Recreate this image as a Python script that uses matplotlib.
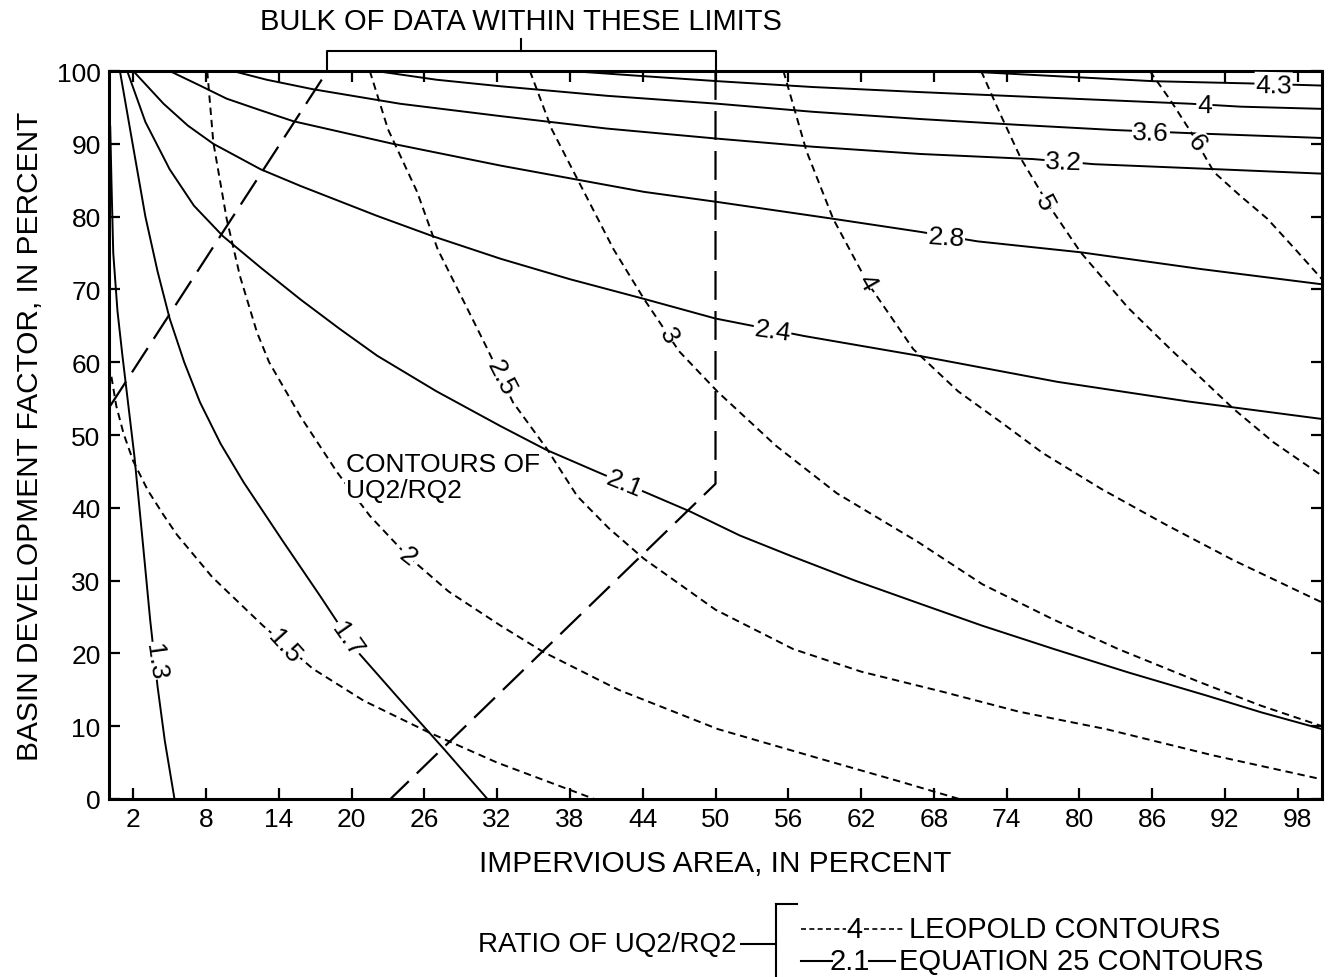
import matplotlib
matplotlib.use("Agg")
import matplotlib.pyplot as plt
from matplotlib.lines import Line2D

plt.rcParams["font.family"] = ["Liberation Sans", "DejaVu Sans"]

# impervious area (x, percent) and basin development factor (y, percent)
# read along each contour of UQ2/RQ2

# equation 25 contours (solid)
eq_1_3_x = [0.1, 0.2, 0.35, 0.7, 1.1, 1.6, 2.1, 2.8, 3.4, 4.0, 4.6, 5.4]
eq_1_3_y = [92.5, 85, 75, 67, 61, 54, 47, 35, 24.5, 15.5, 8, 0]
eq_1_7_x = [0.9, 2.0, 3.0, 4.0, 5.0, 6.2, 7.5, 9.2, 11.1, 14.3, 17.4, 20.3, 24.0, 27.7, 31.2]
eq_1_7_y = [100, 89.5, 80, 72.5, 66, 60, 54.5, 48.8, 43.5, 35.5, 27.9, 20.6, 13.6, 6.7, 0]
eq_2_1_x = [1.5, 3.0, 5.0, 7.0, 9.4, 12.5, 15.8, 19.0, 22.1, 27.0, 32.3, 36.0, 40.3, 44.4,
            47.9, 52.0, 56.2, 61.5, 66.9, 72.0, 77.9, 84.0, 90.5, 95.0, 100]
eq_2_1_y = [100, 93, 86.5, 81.5, 77.3, 73, 68.6, 64.6, 60.9, 56, 51.2, 48, 44.9, 42,
            39.5, 36.2, 33.4, 30, 26.8, 23.8, 20.6, 17.4, 14.2, 11.9, 9.6]
eq_2_4_x = [2.0, 4.5, 6.5, 8.6, 12.5, 15.8, 22.1, 26.7, 32.3, 38.0, 44.1, 50.0, 57.3, 66.7,
            78.2, 89.0, 100]
eq_2_4_y = [100, 95.5, 92.5, 90, 86.5, 84.2, 80.1, 77.3, 74.2, 71.4, 68.7, 66, 63.6, 60.9,
            57.3, 54.6, 52.2]
eq_2_8_x = [5.0, 7.5, 9.7, 12.5, 15.2, 23.4, 32.3, 44.1, 50.2, 59.7, 66.9, 71.6, 80.1, 90.0, 100]
eq_2_8_y = [100, 98, 96.2, 94.6, 93.1, 90, 87, 83.4, 82, 79.7, 77.9, 76.6, 75.1, 72.8, 70.7]
eq_3_2_x = [10.2, 13.0, 16.8, 24.0, 32.3, 41.0, 50.2, 58.0, 66.9, 76.2, 81.2, 90.0, 100]
eq_3_2_y = [100, 98.8, 97.5, 95.5, 93.8, 92.1, 90.7, 89.6, 88.6, 87.9, 87.2, 86.6, 85.9]
eq_3_6_x = [22.0, 27.0, 32.3, 41.0, 50.2, 58.0, 66.9, 75.0, 82.8, 90.0, 100]
eq_3_6_y = [100, 98.8, 97.9, 96.6, 95.5, 94.4, 93.4, 92.6, 91.9, 91.4, 90.8]
eq_4_0_x = [38.0, 44.0, 50.2, 58.0, 66.9, 78.0, 89.2, 93.3, 100]
eq_4_0_y = [100, 99.3, 98.6, 97.8, 97.1, 96.3, 95.5, 95.1, 94.8]
eq_4_3_x = [70.0, 78.0, 86.1, 93.9, 100]
eq_4_3_y = [100, 99.3, 98.6, 98.3, 98]

# Leopold contours (dashed)
leo_1_5_x = [0.2, 0.6, 1.2, 2.0, 3.2, 4.5, 5.6, 8.5, 12.7, 16.8, 21.0, 26.3, 32.0, 38.4, 40.0]
leo_1_5_y = [58, 54, 50.2, 46.4, 42.4, 39, 36.3, 30.5, 23.8, 17.9, 13.5, 9.2, 5.0, 1.0, 0]
leo_2_0_x = [8.1, 8.6, 9.7, 10.8, 12.2, 13.2, 15.8, 18.8, 21.5, 24.6, 28.0, 32.3, 35.8, 42.0,
             50.2, 58.7, 65.0, 70.1]
leo_2_0_y = [100, 90.2, 79.7, 71.8, 64.1, 60, 52.5, 44.9, 38.9, 33.4, 28.5, 23.8, 20.2, 15,
             9.6, 5.5, 2.5, 0]
leo_2_5_x = [21.5, 23.0, 25.4, 27.1, 29.2, 31.2, 33.3, 36.1, 38.6, 41.2, 44.1, 50.0, 56.4,
             62.0, 68.8, 75.0, 82.2, 91.0, 100]
leo_2_5_y = [100, 92, 83.4, 75.5, 68.5, 61.8, 54.5, 48.1, 41.6, 37.2, 33, 26, 20.6,
             17.5, 14.7, 12, 9.6, 6, 2.7]
leo_3_0_x = [34.7, 36.5, 38.6, 41.6, 44.1, 47.0, 50.2, 55.0, 60.0, 66.7, 72.0, 77.8, 83.2,
             90.0, 95.0, 100]
leo_3_0_y = [100, 92, 85.2, 75.5, 68.7, 61.5, 55.9, 48.5, 42, 35.3, 29.5, 24.7, 20.6,
             16, 12.8, 10]
leo_4_0_x = [55.6, 57.5, 59.7, 62.5, 66.3, 70.0, 73.5, 77.0, 81.8, 87.0, 92.7, 100]
leo_4_0_y = [100, 89, 79.7, 71, 61.8, 56, 51.8, 47.5, 42.6, 37.8, 32.8, 27]
leo_5_0_x = [71.9, 73.5, 75.2, 77.5, 80.1, 84.0, 87.5, 92.7, 96.0, 100]
leo_5_0_y = [100, 94, 87.9, 81.5, 75.1, 67.5, 61.8, 53.6, 49, 44.4]
leo_6_0_x = [85.8, 87.5, 89.2, 91.1, 93.3, 95.5, 97.8, 100]
leo_6_0_y = [100, 96, 91.6, 86.1, 82.8, 79.7, 75.5, 71.4]

# envelope of the bulk of the data
bulk_left_x = [0.1, 18.0]
bulk_left_y = [54, 100]
bulk_right_x = [50.0, 50.0, 23.2]
bulk_right_y = [100, 43.3, 0]
bulk_limits = [18.0, 50.0]

x_ticks = list(range(2, 100, 6))
y_ticks = list(range(0, 101, 10))

eq_curves = [
    ("1.3", eq_1_3_x, eq_1_3_y), ("1.7", eq_1_7_x, eq_1_7_y), ("2.1", eq_2_1_x, eq_2_1_y),
    ("2.4", eq_2_4_x, eq_2_4_y), ("2.8", eq_2_8_x, eq_2_8_y), ("3.2", eq_3_2_x, eq_3_2_y),
    ("3.6", eq_3_6_x, eq_3_6_y), ("4", eq_4_0_x, eq_4_0_y), ("4.3", eq_4_3_x, eq_4_3_y),
]
leo_curves = [
    ("1.5", leo_1_5_x, leo_1_5_y), ("2", leo_2_0_x, leo_2_0_y), ("2.5", leo_2_5_x, leo_2_5_y),
    ("3", leo_3_0_x, leo_3_0_y), ("4", leo_4_0_x, leo_4_0_y), ("5", leo_5_0_x, leo_5_0_y),
    ("6", leo_6_0_x, leo_6_0_y),
]

# where each label sits on its curve, and its angle
eq_label_pos = {"1.3": (3.8, 19, -82), "1.7": (19.6, 22.0, -55), "2.1": (42.5, 43.4, -22),
                "2.4": (54.7, 64.4, -8), "2.8": (69.0, 77.2, -4), "3.2": (78.7, 87.5, -2),
                "3.6": (85.9, 91.6, -2), "4": (90.3, 95.3, -1), "4.3": (96.0, 98.1, -1)}
leo_label_pos = {"1.5": (14.5, 21, -48), "2": (24.6, 33.4, -38), "2.5": (32.3, 58, -63),
                 "3": (46.1, 63.7, -62), "4": (62.5, 71, -60), "5": (77.1, 82, -63),
                 "6": (89.7, 90.2, -52)}

W, H = 1332, 978
fig = plt.figure(figsize=(W / 100, H / 100), dpi=100)
ax = fig.add_axes([109 / W, 1 - 800 / H, 1213 / W, 728 / H])

lbl_box = dict(facecolor="white", edgecolor="none", pad=0.5)

for name, xs, ys in eq_curves:
    ax.plot(xs, ys, color="black", lw=1.4, solid_capstyle="butt", solid_joinstyle="round")
    lx, ly, rot = eq_label_pos[name]
    ax.text(lx, ly, name, fontsize=19, rotation=rot, rotation_mode="anchor",
            ha="center", va="center", bbox=lbl_box, zorder=5)

for name, xs, ys in leo_curves:
    ax.plot(xs, ys, color="black", lw=1.4, linestyle=(0, (3.8, 2.5)))
    lx, ly, rot = leo_label_pos[name]
    ax.text(lx, ly, name, fontsize=19, rotation=rot, rotation_mode="anchor",
            ha="center", va="center", bbox=lbl_box, zorder=5)

# bulk of data envelope
ax.plot(bulk_left_x, bulk_left_y, color="black", lw=1.6, linestyle=(0, (13, 5)))
ax.plot(bulk_right_x, bulk_right_y, color="black", lw=1.6, linestyle=(0, (13, 5)))
ax.plot([bulk_limits[0], bulk_limits[0], bulk_limits[1], bulk_limits[1]],
        [100, 102.7, 102.7, 100], color="black", lw=1.5, clip_on=False)
mid = (bulk_limits[0] + bulk_limits[1]) / 2
ax.plot([mid, mid], [102.7, 104.4], color="black", lw=1.5, clip_on=False)
ax.text(mid, 106.9, "BULK OF DATA WITHIN THESE LIMITS", fontsize=21,
        ha="center", va="center", clip_on=False)

ax.text(19.5, 44.2, "CONTOURS OF\nUQ2/RQ2", fontsize=19, ha="left", va="center",
        linespacing=1.1, bbox=dict(facecolor="white", edgecolor="none", pad=0.5), zorder=5)

ax.set_xlim(0, 100)
ax.set_ylim(0, 100)
ax.set_xticks(x_ticks)
ax.set_yticks(y_ticks)
ax.tick_params(direction="in", length=8, width=1.6, top=True, right=True,
               labelsize=19, pad=6)
for s in ax.spines.values():
    s.set_linewidth(2.2)
ax.set_xlabel("IMPERVIOUS AREA, IN PERCENT", fontsize=21.5, labelpad=13)
ax.set_ylabel("BASIN DEVELOPMENT FACTOR, IN PERCENT", fontsize=21.5, labelpad=9)


def fx(px):
    return px / W


def fy(py):
    return 1 - py / H


def fig_line(x0, x1, y0, y1, **kw):
    fig.add_artist(Line2D([fx(x0), fx(x1)], [fy(y0), fy(y1)], color="black", **kw))


# key for the two kinds of contour
fig.text(fx(736), fy(945), "RATIO OF UQ2/RQ2", fontsize=20, ha="right", va="center")
fig_line(741, 776, 945, 945, lw=1.5)
fig_line(776, 776, 905, 978, lw=1.5)
fig_line(776, 797, 905, 905, lw=1.5)
fig_line(801, 846, 930, 930, lw=1.2, linestyle=(0, (3, 2)))
fig.text(fx(854), fy(930), "4", fontsize=21, ha="center", va="center")
fig_line(864, 905, 930, 930, lw=1.2, linestyle=(0, (3, 2)))
fig.text(fx(909), fy(930), "LEOPOLD CONTOURS", fontsize=21, ha="left", va="center")
fig_line(801, 832, 962, 962, lw=1.5)
fig.text(fx(850), fy(962), "2.1", fontsize=21, ha="center", va="center")
fig_line(869, 895, 962, 962, lw=1.5)
fig.text(fx(899), fy(962), "EQUATION 25 CONTOURS", fontsize=21, ha="left", va="center")

fig.savefig("out.png", dpi=100)
